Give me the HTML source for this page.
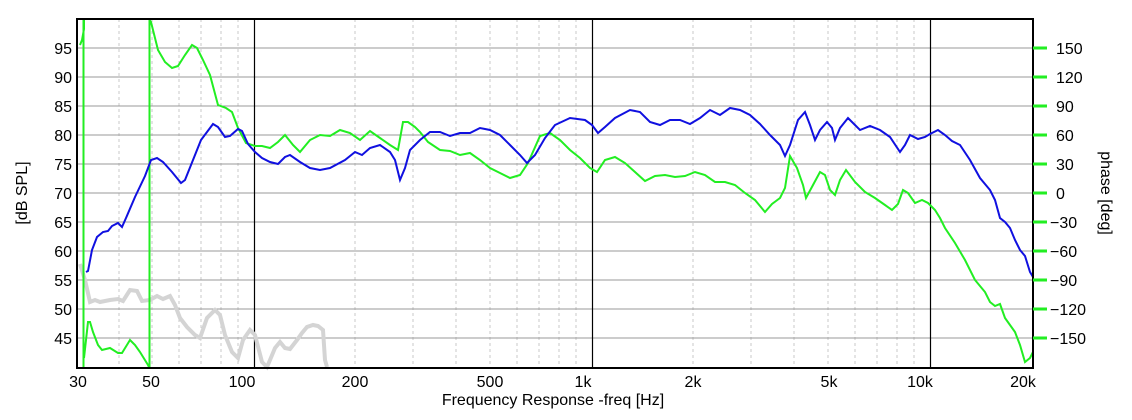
<!DOCTYPE html>
<html><head><style>
body{margin:0;background:#fff;}
svg text{font-family:"Liberation Sans",sans-serif;font-size:16px;fill:#000;}
</style></head><body>
<svg width="1132" height="415" viewBox="0 0 1132 415" xmlns="http://www.w3.org/2000/svg">
<rect width="1132" height="415" fill="#fff"/>
<g stroke="#c8c8c8" stroke-dasharray="3,3" stroke-width="1">
<line x1="119" y1="19" x2="119" y2="368"/><line x1="152" y1="19" x2="152" y2="368"/><line x1="179" y1="19" x2="179" y2="368"/><line x1="201" y1="19" x2="201" y2="368"/><line x1="221" y1="19" x2="221" y2="368"/><line x1="238" y1="19" x2="238" y2="368"/>
<line x1="355" y1="19" x2="355" y2="368"/><line x1="413" y1="19" x2="413" y2="368"/><line x1="456" y1="19" x2="456" y2="368"/><line x1="490" y1="19" x2="490" y2="368"/><line x1="517" y1="19" x2="517" y2="368"/><line x1="539" y1="19" x2="539" y2="368"/><line x1="559" y1="19" x2="559" y2="368"/><line x1="576" y1="19" x2="576" y2="368"/>
<line x1="693" y1="19" x2="693" y2="368"/><line x1="751" y1="19" x2="751" y2="368"/><line x1="794" y1="19" x2="794" y2="368"/><line x1="828" y1="19" x2="828" y2="368"/><line x1="855" y1="19" x2="855" y2="368"/><line x1="877" y1="19" x2="877" y2="368"/><line x1="897" y1="19" x2="897" y2="368"/><line x1="914" y1="19" x2="914" y2="368"/>
</g>
<g stroke="#999" stroke-width="1">
<line x1="77" y1="48" x2="1033" y2="48"/><line x1="77" y1="77" x2="1033" y2="77"/><line x1="77" y1="106" x2="1033" y2="106"/><line x1="77" y1="135" x2="1033" y2="135"/><line x1="77" y1="164" x2="1033" y2="164"/><line x1="77" y1="193" x2="1033" y2="193"/><line x1="77" y1="222" x2="1033" y2="222"/><line x1="77" y1="251" x2="1033" y2="251"/><line x1="77" y1="280" x2="1033" y2="280"/><line x1="77" y1="309" x2="1033" y2="309"/><line x1="77" y1="338" x2="1033" y2="338"/>
</g>
<g stroke="#000" stroke-width="1.2">
<line x1="254.5" y1="19" x2="254.5" y2="368"/><line x1="592.5" y1="19" x2="592.5" y2="368"/><line x1="930.5" y1="19" x2="930.5" y2="368"/>
</g>
<polyline fill="none" stroke="#d4d4d4" stroke-width="4" points="80,264 85,280 90,302 95,300 100,302 110,300 118,299 123,301 130,290 137,291 142,301 150,300 157,296 163,299 170,296 175,305 180,318 187,327 195,335 200,338 207,318 215,310 220,315 225,335 232,352 238,358 243,340 250,330 255,335 262,362 267,367 270,360 275,348 280,342 285,348 290,349 297,340 302,333 307,327 313,325 318,326 323,330 325,360 327,367"/>
<g fill="none" stroke="#22ee22" stroke-width="2">
<polyline points="80,45 82,40 84,29 84,19"/>
<line x1="83.5" y1="19" x2="83.5" y2="368"/>
<line x1="149.5" y1="19" x2="149.5" y2="368"/>
<polyline points="84,358 88,322 90,322 93,332 98,345 102,350 110,348 118,353 122,353 130,340 135,345 140,352 148,365 149,367"/>
<polyline points="149,19 151,22 158,50 165,62 172,68 178,66 185,55 192,45 197,48 203,60 210,75 218,105 226,108 232,112 238,128 246,143 255,146 262,146 270,148 278,142 285,135 293,145 300,152 310,140 320,135 330,136 340,130 350,133 360,140 370,131 380,138 390,145 398,150 403,122 408,122 415,127 420,132 428,142 440,150 450,151 460,155 470,153 480,160 490,168 500,173 510,178 520,175 528,163 540,136 550,133 560,140 570,150 580,158 590,168 597,172 605,160 615,157 625,163 635,172 645,181 655,176 665,175 675,177 685,176 695,172 705,175 715,182 725,182 735,185 745,193 755,200 765,212 772,204 780,198 785,188 790,156 797,168 803,185 806,198 813,185 820,172 825,175 830,190 835,195 840,180 846,170 855,182 865,192 875,198 885,205 892,210 898,204 903,190 908,193 915,203 922,200 928,203 935,210 940,218 945,228 955,243 965,260 975,280 985,292 990,302 995,306 1000,304 1005,318 1015,332 1020,345 1025,362 1030,358 1033,352"/>
</g>
<polyline fill="none" stroke="#1010e0" stroke-width="2" points="86,272 88,271 92,250 97,237 103,232 108,231 112,226 118,223 122,227 126,218 135,197 145,176 151,160 157,158 163,162 172,172 181,183 185,180 193,160 201,140 213,124 218,127 225,137 230,136 238,129 242,131 248,144 255,152 262,158 270,162 278,164 285,157 290,155 300,162 310,168 320,170 330,168 345,160 355,152 362,155 370,148 380,145 390,152 395,160 400,180 405,168 410,150 420,140 430,132 440,132 450,136 460,133 470,133 480,128 490,130 500,135 510,145 520,155 527,163 535,155 545,138 555,125 570,118 585,120 592,125 598,133 605,127 615,118 630,110 640,112 650,122 660,125 670,120 680,120 690,124 700,118 710,110 720,115 730,108 740,110 750,115 760,124 770,135 780,145 785,156 790,145 798,120 805,112 810,125 815,140 820,130 827,122 832,128 835,140 840,128 848,118 855,125 860,130 870,126 880,130 890,137 900,152 905,145 910,135 918,139 925,137 930,134 938,130 945,135 952,141 960,145 970,160 980,178 990,190 995,200 1000,218 1005,222 1010,228 1015,240 1020,250 1025,256 1030,272 1033,277"/>
<rect x="77" y="19" width="956" height="349" fill="none" stroke="#000" stroke-width="2"/>
<g stroke="#22ee22" stroke-width="3">
<line x1="1033" y1="48" x2="1047" y2="48"/><line x1="1033" y1="77" x2="1047" y2="77"/><line x1="1033" y1="106" x2="1047" y2="106"/><line x1="1033" y1="135" x2="1047" y2="135"/><line x1="1033" y1="164" x2="1047" y2="164"/><line x1="1033" y1="193" x2="1047" y2="193"/><line x1="1033" y1="222" x2="1047" y2="222"/><line x1="1033" y1="251" x2="1047" y2="251"/><line x1="1033" y1="280" x2="1047" y2="280"/><line x1="1033" y1="309" x2="1047" y2="309"/><line x1="1033" y1="338" x2="1047" y2="338"/>
</g>
<g text-anchor="end">
<text x="72" y="54">95</text><text x="72" y="83">90</text><text x="72" y="112">85</text><text x="72" y="141">80</text><text x="72" y="170">75</text><text x="72" y="199">70</text><text x="72" y="228">65</text><text x="72" y="257">60</text><text x="72" y="286">55</text><text x="72" y="315">50</text><text x="72" y="344">45</text>
</g>
<g text-anchor="start">
<text x="1056" y="54">150</text><text x="1056" y="83">120</text><text x="1056" y="112">90</text><text x="1056" y="141">60</text><text x="1056" y="170">30</text><text x="1056" y="199">0</text><text x="1050" y="228">−30</text><text x="1050" y="257">−60</text><text x="1050" y="286">−90</text><text x="1050" y="315">−120</text><text x="1050" y="344">−150</text>
</g>
<g text-anchor="middle">
<text x="78" y="387">30</text><text x="151" y="387">50</text><text x="242" y="387">100</text><text x="355" y="387">200</text><text x="490" y="387">500</text><text x="583" y="387">1k</text><text x="693" y="387">2k</text><text x="829" y="387">5k</text><text x="920" y="387">10k</text><text x="1023" y="387">20k</text>
<text x="553" y="405">Frequency Response -freq [Hz]</text>
<text transform="translate(27,193) rotate(-90)">[dB SPL]</text>
<text transform="translate(1101,193) rotate(90)">phase [deg]</text>
</g>
</svg>
</body></html>
